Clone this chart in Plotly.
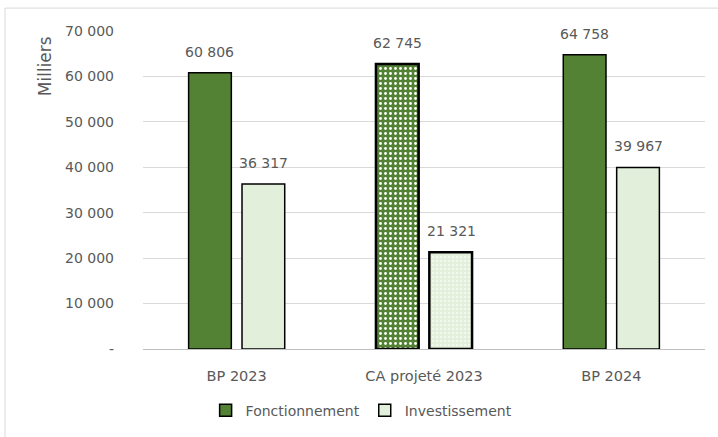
import plotly.graph_objects as go

categories = ["BP 2023", "CA projeté 2023", "BP 2024"]
fonctionnement = [60806, 62745, 64758]
investissement = [36317, 21321, 39967]
tick_vals = [0, 10000, 20000, 30000, 40000, 50000, 60000, 70000]
tick_text = ["-", "10 000", "20 000", "30 000", "40 000", "50 000", "60 000", "70 000"]

GREEN = "#548235"
LIGHT = "#E2EFDA"
GREY_TXT = "#595959"
FONT = "DejaVu Sans, sans-serif"


def fmt(v):
    return f"{v:,}".replace(",", " ")


fig = go.Figure()
fig.add_trace(go.Bar(
    name="Fonctionnement", x=categories, y=fonctionnement,
    marker=dict(color=GREEN,
                line=dict(color="black", width=[1.5, 2.5, 1.5]),
                pattern=dict(shape=["", ".", ""], fgcolor="#ffffff", bgcolor=GREEN,
                             size=5, solidity=0.25, fillmode="replace")),
))
fig.add_trace(go.Bar(
    name="Investissement", x=categories, y=investissement,
    marker=dict(color=LIGHT,
                line=dict(color="black", width=[1.5, 2.5, 1.5]),
                pattern=dict(shape=["", ".", ""], fgcolor="#f4f9f0", bgcolor=LIGHT,
                             size=4, solidity=0.3, fillmode="replace")),
))

annotations = []
for c, v in zip(categories, fonctionnement):
    annotations.append(dict(x=c, y=v, text=fmt(v), showarrow=False, xshift=-27, yshift=21,
                            font=dict(size=14, color=GREY_TXT, family=FONT)))
for c, v in zip(categories, investissement):
    annotations.append(dict(x=c, y=v, text=fmt(v), showarrow=False, xshift=27, yshift=21,
                            font=dict(size=14, color=GREY_TXT, family=FONT)))
annotations.append(dict(xref="paper", yref="paper", x=-0.174, y=0.89, text="Milliers",
                        textangle=-90, showarrow=False, xanchor="center", yanchor="middle",
                        font=dict(size=17, color=GREY_TXT, family=FONT)))

fig.update_layout(
    width=718, height=437,
    margin=dict(l=143, r=13, t=31, b=87),
    paper_bgcolor="white", plot_bgcolor="white",
    barmode="group", bargap=0.43, bargroupgap=0.2,
    font=dict(family=FONT, color=GREY_TXT, size=14),
    showlegend=True,
    legend=dict(orientation="h", x=0.389, xanchor="center", y=-0.19, yanchor="middle",
                font=dict(size=14, color=GREY_TXT, family=FONT), itemwidth=30,
                traceorder="normal"),
    annotations=annotations,
    shapes=[dict(type="rect", xref="paper", yref="paper", x0=-0.2456, y0=-0.5, x1=1.2, y1=1.072,
                 line=dict(color="#d9d9d9", width=1), fillcolor="rgba(0,0,0,0)", layer="below")],
)
fig.update_yaxes(range=[0, 70000], tickvals=tick_vals, ticktext=tick_text,
                 showgrid=True, gridcolor="#d9d9d9", gridwidth=1,
                 zeroline=False, showline=False, ticks="", ticklabelstandoff=28,
                 tickfont=dict(size=14, color=GREY_TXT))
fig.update_xaxes(showline=True, linecolor="#bfbfbf", linewidth=1, ticks="",
                 ticklabelstandoff=14,
                 tickfont=dict(size=14.5, color=GREY_TXT))

fig.write_html("out.html", config={"displayModeBar": False},
               post_script="document.body.style.margin='0';")
